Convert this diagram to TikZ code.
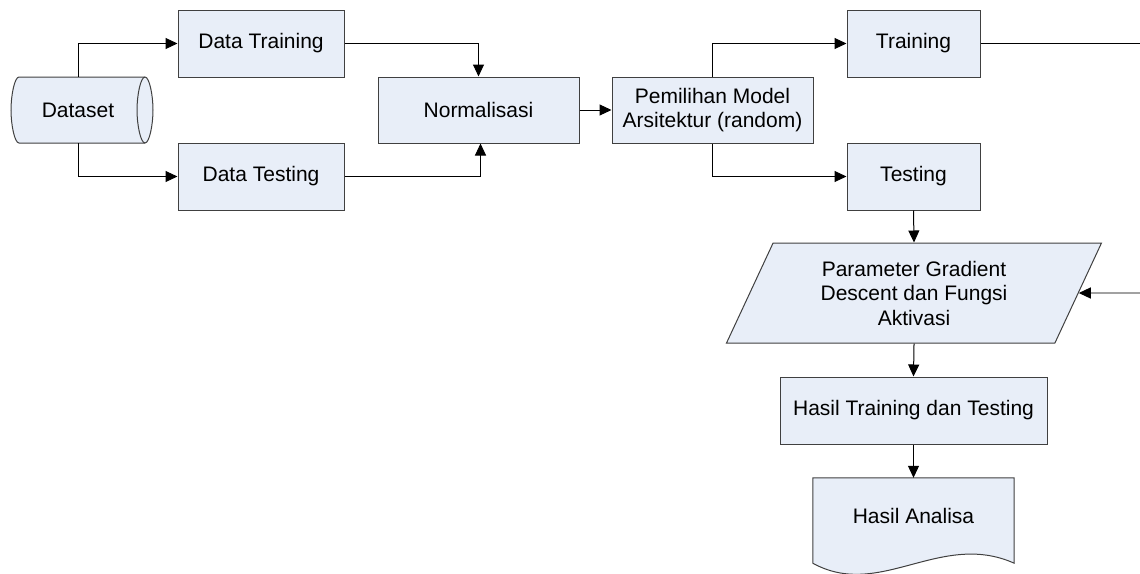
\documentclass[tikz,border=0pt]{standalone}
\usepackage{fontspec}
\setmainfont{Liberation Sans}
\usetikzlibrary{arrows.meta,shapes.geometric}
\definecolor{boxfill}{RGB}{232,238,248}
\definecolor{boxline}{RGB}{64,64,64}
\definecolor{loopgray}{RGB}{110,110,110}
\begin{document}
\begin{tikzpicture}[x=1pt,y=-1pt,
  every node/.style={font=\fontsize{21}{24.5}\selectfont, inner sep=0pt, align=center},
  box/.style={draw=boxline, fill=boxfill, line width=1pt, rectangle},
  shapeline/.style={draw=boxline, fill=boxfill, line width=1pt},
  arr/.style={draw=black, line width=1pt, -{Triangle[length=12pt,width=11pt]}},
  grayarr/.style={draw=loopgray, line width=1.2pt, -{Triangle[length=12pt,width=11pt,color=black]}},
  ln/.style={draw=black, line width=1pt}]
\useasboundingbox (0,0) rectangle (1140,573);

% Dataset cylinder
\path[shapeline] (19,77) -- (145,77)
  .. controls (149.4,77) and (153,95.2) .. (153,110)
  .. controls (153,124.8) and (149.4,143) .. (145,143)
  -- (19,143)
  .. controls (14.6,143) and (11,124.8) .. (11,110)
  .. controls (11,95.2) and (14.6,77) .. (19,77) -- cycle;
\draw[boxline, line width=1pt] (145,77)
  .. controls (140.6,77) and (137,95.2) .. (137,110)
  .. controls (137,124.8) and (140.6,143) .. (145,143);
\node[minimum width=120pt, minimum height=66pt] (ds) at (78,110) {Dataset};

% boxes
\node[box, minimum width=166pt, minimum height=67pt] (dtrain) at (261,43.5) {Data Training};
\node[box, minimum width=166pt, minimum height=67pt] (dtest) at (261,176.5) {Data Testing};
\node[box, minimum width=201pt, minimum height=66pt] (norm) at (478.5,110) {Normalisasi};
\node[box, minimum width=201pt, minimum height=66pt] (pem) at (712.5,110) {Pemilihan Model\\Arsitektur (random)};
\node[box, minimum width=133pt, minimum height=67pt] (train) at (913.5,43.5) {Training};
\node[box, minimum width=133pt, minimum height=67pt] (test) at (913.5,176.5) {Testing};
\node[shapeline, trapezium, trapezium left angle=64.4, trapezium right angle=115.6,
  trapezium stretches=true, minimum width=376pt, minimum height=100pt] (param) at (914,293)
  {Parameter Gradient\\Descent dan Fungsi\\Aktivasi};
\node[box, minimum width=267pt, minimum height=67pt] (hasil) at (913.5,410.5) {Hasil Training dan Testing};

% document shape
\node[minimum width=201pt, minimum height=75pt] (doc) at (913.5,515.5) {};
\coordinate (dbl) at ([yshift=-10pt]doc.south west);
\coordinate (dbr) at ([yshift=-10pt]doc.south east);
\path[shapeline] (doc.north west) -- (dbl)
  .. controls ([shift={(67pt,-37pt)}]dbl) and ([shift={(-74pt,33pt)}]dbr) .. (dbr)
  -- (doc.north east) -- cycle;
\node at (doc.center) {Hasil Analisa};

% free ends
\coordinate (trainend) at (1140,43.5);
\coordinate (loopin) at (1140,293);

% connectors
\draw[arr] (ds.north) |- (dtrain.west);
\draw[arr] (ds.south) |- (dtest.west);
\draw[arr] (dtrain.east) -| (norm.north);
\draw[arr] (dtest.east) -| ([xshift=2pt]norm.south);
\draw[arr] (norm.east) -- (pem.west);
\draw[arr] (pem.north) |- (train.west);
\draw[arr] (pem.south) |- (test.west);
\draw[ln] (train.east) -- (trainend);
\draw[arr] (test.south) -- (param.north);
\draw[grayarr] (loopin) -- (param.east);
\draw[arr] (param.south) -- (hasil.north);
\draw[arr] (hasil.south) -- (doc.north);
\end{tikzpicture}
\end{document}
